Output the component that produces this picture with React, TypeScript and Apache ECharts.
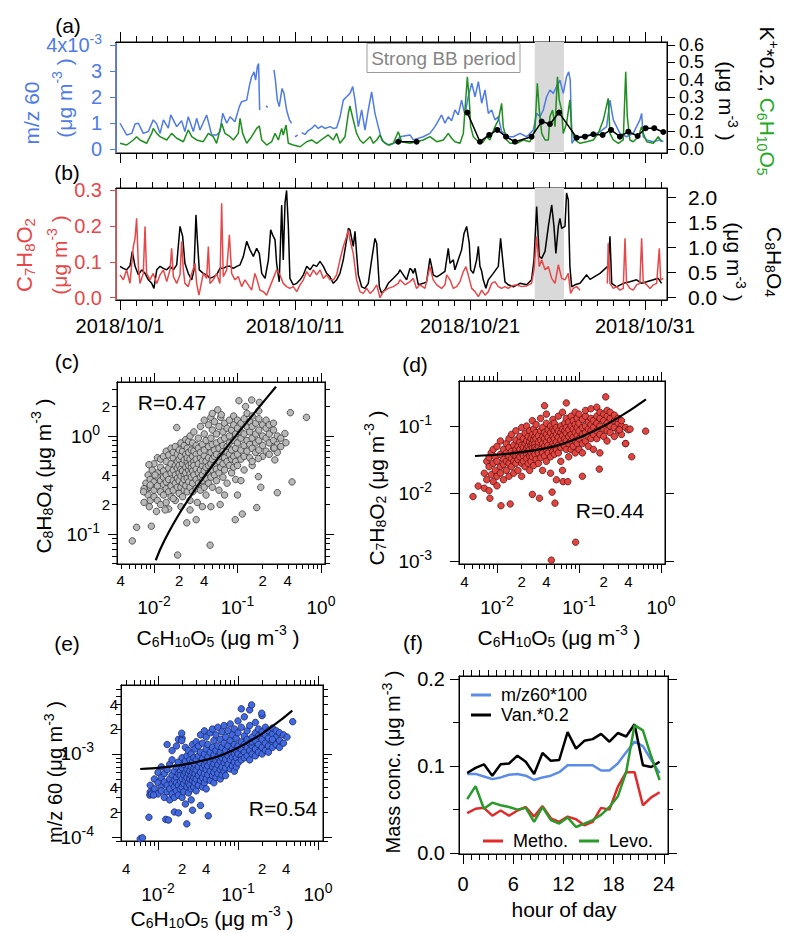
import React, { useEffect, useRef } from "react";
import * as echarts from "echarts";

const FONT = '"Liberation Sans", Arial, Helvetica, sans-serif';
const BLUE = "#4f7be6";
const GREEN = "#1e8f1e";
const GREEN_T = "#22aa22";
const RED = "#e8474a";

// ---------- time axis (days after 2018/10/1 00:00) ----------
const DATE_TICKS = [0, 10, 20, 30];
const DATE_LABELS = ["2018/10/1", "2018/10/11", "2018/10/21", "2018/10/31"];
const BB_PERIOD = [23.7, 25.37];

// ---------- (a) m/z 60 (x10^-3 ug m-3) ----------
const mz60A: (number | null)[][] = [
  [0,0.99],[0.38,0.54],[0.67,0.6],[0.86,0.96],[1.05,0.99],[1.33,0.6],[1.62,0.67],[1.9,1.12],[2.1,0.96],[2.29,0.6],[2.48,1.12],[2.76,0.8],[2.9,1.31],[3.24,0.86],[3.52,1.09],[3.71,0.67],[3.9,1.24],[4.19,0.67],[4.38,1.18],[4.57,0.73],[4.95,1.31],[5.24,0.54],[5.52,0.54],[5.71,0.67],[5.87,1.37],[6.1,0.99],[6.29,1.24],[6.57,1.05],[6.82,1.63],[6.95,1.82],[7.24,1.88],[7.39,2.42],[7.52,2.78],[7.66,2.97],[7.75,2.65],[7.85,3.17],[7.92,3.29],[7.98,1.5],[8.1,null],[8.34,1.66],[8.44,1.6],[8.6,null],[8.8,3.04],[8.88,2.65],[8.99,1.88],[9.1,1.63],[9.26,2.33],[9.37,2.14],[9.52,1.5],[9.68,1.12],[9.81,0.99],[9.9,null],[10.0,0.47],[10.15,0.54],[10.25,null],[10.38,0.63],[10.57,0.56],[10.76,0.71],[10.95,0.79],[11.14,0.92],[11.33,0.79],[11.52,0.88],[11.71,0.79],[12.0,0.86],[12.19,0.79],[12.38,0.82],[12.57,1.22],[12.76,1.88],[12.95,2.01],[13.14,2.14],[13.3,2.4],[13.43,1.88],[13.62,0.86],[13.81,1.5],[14.0,0.73],[14.19,1.5],[14.38,2.2],[14.57,1.37],[14.76,0.86],[14.95,0.35],[15.14,0.22],[15.43,0.15],[15.81,0.28],[16.0,0.47],[16.57,0.54],[16.76,0.35],[17.33,0.47],[17.71,0.6],[18.0,0.86],[18.38,1.31],[18.57,0.99],[18.76,1.24],[18.95,1.09],[19.14,1.5],[19.33,1.31],[19.52,1.88],[19.71,1.31],[19.9,2.01],[20.1,2.53],[20.29,2.01],[20.48,2.59],[20.67,1.76],[20.86,2.27],[21.05,1.37],[21.24,1.5],[21.43,1.12],[21.62,1.24],[21.81,0.67],[22.0,0.6],[22.19,0.47],[22.48,0.47],[22.86,0.6],[23.24,0.47],[23.62,0.73],[23.81,1.37],[24.0,1.24],[24.19,1.5],[24.38,2.01],[24.57,2.27],[24.76,2.14],[24.95,2.4],[25.14,2.65],[25.33,2.14],[25.52,2.78],[25.64,2.97],[25.73,2.65],[25.83,0.22],[26.0,0.41],[26.29,0.47],[26.67,0.54],[27.05,0.54],[27.43,0.67],[27.81,0.86],[28.0,1.88],[28.19,1.12],[28.57,0.6],[28.95,0.47],[29.33,0.6],[29.71,1.12],[29.81,1.37],[29.9,0.47],[30.1,0.35],[30.48,0.28],[30.86,0.35],[31.05,0.28]
];
// ---------- (a) C6H10O5 (ug m-3) ----------
const levoA: number[][] = [
  [0,0.033],[0.38,0.023],[0.76,0.052],[0.95,0.071],[1.14,0.052],[1.52,0.033],[1.81,0.09],[1.9,0.119],[2.1,0.09],[2.29,0.071],[2.67,0.052],[2.95,0.09],[3.24,0.062],[3.62,0.042],[3.9,0.11],[4.1,0.071],[4.38,0.052],[4.76,0.042],[5.05,0.09],[5.33,0.071],[5.52,0.033],[5.81,0.148],[6.0,0.09],[6.29,0.071],[6.48,0.052],[6.76,0.09],[6.86,0.177],[7.01,0.09],[7.24,0.033],[7.52,0.071],[7.81,0.119],[7.96,0.133],[8.1,0.052],[8.38,0.023],[8.67,0.042],[8.86,0.09],[9.05,0.052],[9.24,0.119],[9.33,0.081],[9.49,0.138],[9.62,0.033],[9.9,0.023],[10.29,0.013],[10.67,0.042],[10.95,0.052],[11.24,0.033],[11.62,0.062],[11.9,0.081],[12.19,0.052],[12.38,0.09],[12.57,0.033],[12.86,0.071],[13.05,0.206],[13.14,0.248],[13.33,0.167],[13.52,0.09],[13.71,0.052],[13.9,0.033],[14.1,0.052],[14.29,0.071],[14.48,0.033],[14.67,0.052],[14.86,0.081],[15.05,0.042],[15.33,0.023],[15.62,0.033],[15.9,0.1],[16.1,0.042],[16.57,0.033],[16.95,0.042],[17.33,0.052],[17.71,0.071],[18.1,0.042],[18.48,0.052],[18.76,0.09],[18.95,0.062],[19.14,0.042],[19.43,0.033],[19.62,0.09],[19.77,0.302],[19.85,0.417],[19.96,0.283],[20.04,0.129],[20.19,0.071],[20.38,0.052],[20.57,0.033],[20.76,0.042],[20.95,0.071],[21.14,0.052],[21.43,0.129],[21.62,0.167],[21.81,0.263],[21.9,0.129],[22.1,0.052],[22.29,0.033],[22.67,0.033],[23.05,0.052],[23.43,0.042],[23.71,0.11],[23.85,0.379],[23.96,0.225],[24.1,0.09],[24.29,0.052],[24.48,0.052],[24.57,0.187],[24.72,0.225],[24.86,0.129],[25.0,0.417],[25.1,0.283],[25.24,0.225],[25.33,0.09],[25.52,0.148],[25.71,0.283],[25.81,0.11],[26.0,0.052],[26.29,0.033],[26.67,0.042],[27.05,0.052],[27.33,0.09],[27.62,0.167],[27.9,0.292],[28.0,0.09],[28.19,0.052],[28.48,0.033],[28.76,0.052],[28.9,0.446],[28.99,0.187],[29.14,0.052],[29.33,0.042],[29.62,0.071],[29.81,0.129],[29.9,0.09],[30.1,0.042],[30.48,0.033],[30.76,0.071],[30.95,0.042]
];
// ---------- (a) K+ * 0.2 (ug m-3), daily ----------
const kPlusA: (number | null)[][] = [
  [15.9,0.042],[16.95,0.042],[17.5,null],[19.85,0.21],[20.57,0.042],[21.1,0.081],[21.56,0.11],[22.06,0.071],[22.57,0.042],[23.52,0.071],[24.1,0.158],[24.57,0.144],[25.09,0.21],[26.1,0.065],[26.57,0.071],[27.05,0.085],[27.58,0.081],[28.06,0.11],[28.57,0.071],[29.05,0.1],[29.58,0.075],[30.04,0.12],[30.53,0.12],[31.05,0.098]
];
// ---------- (b) C7H8O2 (ug m-3) ----------
const methoB: (number | null)[][] = [
  [0,0.064],[0.19,0.05],[0.38,0.078],[0.57,0.04],[0.76,0.143],[0.86,0.166],[0.95,0.222],[1.05,0.087],[1.14,0.04],[1.33,0.068],[1.43,0.199],[1.52,0.068],[1.71,0.05],[1.9,0.068],[2.1,0.04],[2.29,0.064],[2.48,0.078],[2.67,0.045],[2.86,0.078],[2.95,0.138],[3.05,0.059],[3.24,0.04],[3.43,0.064],[3.52,0.157],[3.62,0.078],[3.71,0.04],[3.9,0.031],[4.1,0.068],[4.29,0.096],[4.38,0.04],[4.51,0.007],[4.57,0.021],[4.76,0.068],[4.95,0.054],[5.05,0.143],[5.14,0.04],[5.33,0.05],[5.52,0.068],[5.71,0.04],[5.81,0.264],[5.9,0.059],[6.1,0.078],[6.25,0.176],[6.38,0.068],[6.57,0.05],[6.76,0.059],[6.95,0.031],[7.14,0.05],[7.33,0.036],[7.52,0.021],[7.71,0.068],[7.81,0.054],[8.0,0.021],[8.19,0.017],[8.38,0.007],[8.57,0.031],[8.76,0.054],[8.95,0.078],[9.14,0.064],[9.33,0.04],[9.52,0.031],[9.71,0.026],[9.9,0.031],[10.1,0.017],[10.29,0.036],[10.48,0.05],[10.67,0.073],[10.86,0.059],[11.05,0.078],[11.24,0.064],[11.43,0.078],[11.62,0.054],[11.81,0.064],[12.0,0.05],[12.19,0.05],[12.38,0.064],[12.57,0.106],[12.76,0.143],[12.95,0.171],[13.05,0.19],[13.14,0.162],[13.33,0.124],[13.52,0.05],[13.71,0.017],[13.9,0.012],[14.1,0.026],[14.29,0.012],[14.48,0.021],[14.67,0.036],[14.86,0.0],[15.05,0.017],[15.33,0.026],[15.62,0.031],[15.9,0.04],[16.0,0.05],[16.29,0.036],[16.57,0.045],[16.76,0.054],[16.95,0.026],[17.14,0.036],[17.43,0.026],[17.71,0.087],[17.9,0.05],[18.1,0.036],[18.38,0.026],[18.57,0.036],[18.67,0.064],[18.86,0.05],[19.05,0.026],[19.24,0.031],[19.43,0.045],[19.62,0.073],[19.77,0.087],[19.9,0.064],[20.1,0.026],[20.29,0.017],[20.48,0.003],[20.67,0.021],[20.86,0.007],[21.05,0.017],[21.24,0.04],[21.43,0.045],[21.62,0.031],[21.81,0.026],[22.0,0.031],[22.19,0.026],[22.38,0.033],[22.67,0.036],[22.95,0.031],[23.24,0.033],[23.52,0.04],[23.66,0.078],[23.81,0.171],[23.96,0.087],[24.1,0.106],[24.29,0.078],[24.48,0.087],[24.67,0.054],[24.86,0.04],[25.05,0.092],[25.24,0.054],[25.43,0.05],[25.62,0.068],[25.75,0.012],[25.9,0.026],[26.1,0.031],[26.29,0.021],[26.5,null],[27.85,0.04],[27.9,0.152],[28.0,0.04],[28.19,0.026],[28.38,0.031],[28.57,0.021],[28.76,0.026],[28.86,0.166],[28.95,0.04],[29.14,0.026],[29.33,0.021],[29.52,0.036],[29.71,0.04],[29.81,0.166],[29.9,0.045],[30.1,0.036],[30.29,0.026],[30.48,0.036],[30.67,0.04],[30.82,0.138],[30.9,0.05],[31.05,0.054]
];
// ---------- (b) C8H8O4 (ug m-3) ----------
const vanB: number[][] = [
  [0,0.62],[0.19,0.58],[0.38,0.55],[0.57,0.63],[0.7,0.92],[0.86,0.62],[1.05,0.45],[1.24,0.55],[1.43,0.48],[1.62,0.35],[1.81,0.28],[1.94,0.18],[2.1,0.55],[2.29,0.62],[2.48,0.58],[2.67,0.55],[2.86,0.62],[3.05,0.55],[3.24,0.65],[3.43,1.42],[3.58,1.22],[3.71,0.68],[3.9,0.48],[4.1,0.35],[4.23,0.55],[4.34,1.65],[4.42,1.15],[4.53,0.55],[4.76,0.48],[4.95,0.45],[5.14,0.38],[5.33,0.41],[5.52,0.45],[5.71,0.58],[5.9,0.58],[6.1,0.62],[6.29,0.62],[6.48,0.58],[6.67,0.62],[6.86,0.65],[7.05,0.82],[7.24,1.12],[7.43,0.95],[7.62,0.82],[7.81,0.98],[7.96,0.88],[8.1,0.48],[8.29,0.38],[8.48,0.75],[8.61,1.35],[8.72,1.25],[8.86,1.15],[8.95,0.68],[9.1,0.31],[9.24,1.85],[9.33,0.75],[9.43,1.89],[9.52,2.14],[9.62,1.42],[9.71,0.38],[9.9,0.25],[10.1,0.28],[10.29,0.35],[10.48,0.45],[10.67,0.62],[10.86,0.55],[11.05,0.65],[11.24,0.62],[11.43,0.72],[11.62,0.62],[11.81,0.48],[12.0,0.41],[12.19,0.28],[12.38,0.35],[12.57,0.48],[12.76,0.75],[12.95,1.15],[13.05,1.38],[13.14,1.35],[13.33,1.02],[13.43,1.32],[13.52,0.88],[13.62,0.45],[13.81,0.21],[14.0,0.18],[14.19,0.28],[14.38,0.75],[14.57,1.18],[14.67,1.08],[14.82,0.21],[14.95,0.08],[15.14,0.15],[15.33,0.28],[15.62,0.38],[15.9,0.48],[16.0,0.55],[16.19,0.45],[16.38,0.35],[16.57,0.58],[16.67,0.55],[16.76,0.48],[16.86,0.58],[17.05,0.25],[17.33,0.28],[17.52,0.31],[17.71,0.78],[17.81,0.62],[17.9,0.45],[18.1,0.41],[18.29,0.45],[18.57,0.52],[18.76,0.98],[18.86,0.68],[19.05,0.75],[19.14,0.55],[19.33,0.75],[19.52,0.95],[19.66,1.28],[19.81,1.42],[19.96,1.08],[20.04,0.55],[20.19,0.48],[20.29,0.62],[20.38,0.75],[20.48,1.02],[20.57,0.62],[20.67,0.52],[20.76,0.35],[20.91,0.18],[21.05,0.35],[21.33,0.48],[21.62,0.62],[21.75,1.18],[21.87,0.75],[22.0,0.31],[22.19,0.25],[22.48,0.21],[22.86,0.28],[23.24,0.25],[23.52,0.35],[23.66,0.75],[23.81,1.82],[23.96,0.82],[24.1,0.78],[24.29,0.92],[24.48,1.42],[24.67,1.85],[24.8,1.42],[24.91,0.88],[25.05,1.42],[25.14,1.58],[25.24,1.38],[25.43,1.42],[25.52,2.09],[25.62,1.95],[25.71,0.62],[25.81,0.21],[26.0,0.25],[26.29,0.28],[26.67,0.45],[26.86,0.36],[27.43,0.48],[27.9,0.63],[28.0,1.22],[28.1,0.28],[28.38,0.21],[28.76,0.28],[29.14,0.31],[29.52,0.35],[29.81,0.28],[30.1,0.31],[30.48,0.35],[30.76,0.38],[30.95,0.28]
];

// ---------- (c) C6H10O5 vs C8H8O4 (ug m-3): [x, [y...]] ----------
const scatterC: [number, number[]][] = [
  [0.008,[0.27,0.33]],[0.0085,[0.25,0.4]],[0.009,[0.3,0.36,0.22]],[0.0095,[0.45]],[0.01,[0.28,0.34,0.52,0.24]],[0.011,[0.31,0.42,0.6,0.22,0.38]],[0.012,[0.27,0.35,0.48,0.58,0.2]],[0.013,[0.32,0.44,0.62,0.25,0.38]],[0.014,[0.29,0.4,0.55,0.7,0.21,0.34]],[0.015,[0.36,0.47,0.64,0.27,0.18]],[0.016,[0.31,0.42,0.52,0.75,0.24]],[0.017,[0.35,0.45,0.6,0.28,0.68]],[0.018,[0.4,0.5,0.33,0.22,0.78]],[0.019,[0.37,0.55,0.65,0.3,0.47]],[0.02,[0.42,0.58,0.26,0.35,0.72,0.5]],[0.021,[0.39,0.62,0.3,0.85,0.46]],[0.022,[0.33,0.52,0.7,0.44,0.24]],[0.023,[0.4,0.57,0.8,0.36,0.28]],[0.024,[0.48,0.65,0.31,0.92,0.42]],[0.025,[0.37,0.55,0.75,0.27,0.6]],[0.026,[0.45,0.68,0.34,0.5,0.88]],[0.027,[0.41,0.58,1.0,0.3,0.22]],[0.028,[0.52,0.72,0.38,0.47]],[0.029,[0.62,0.44,0.85,0.33,0.27]],[0.03,[0.55,0.4,0.7,1.1,0.5]],[0.032,[0.46,0.65,0.36,0.8,0.29,0.58]],[0.034,[0.52,0.75,0.42,0.95,0.33]],[0.036,[0.6,0.45,0.38,0.68,1.25,0.28]],[0.038,[0.5,0.82,0.4,0.56,0.35]],[0.04,[0.63,0.44,0.72,1.05,0.3,1.45]],[0.042,[0.55,0.48,0.9,0.37,0.25]],[0.045,[0.6,0.78,0.42,1.3,0.33,0.5]],[0.048,[0.68,0.52,0.95,0.38,1.55]],[0.05,[0.58,0.45,0.82,0.3,1.15,1.7]],[0.053,[0.72,0.5,0.4,0.62,1.4]],[0.056,[0.65,0.85,0.46,0.35,1.05]],[0.058,[1.85]],[0.06,[0.55,0.75,0.42,1.25,0.28]],[0.063,[0.9,0.62,0.48,1.55]],[0.064,[1.65]],[0.067,[0.7,0.52,1.1,0.38,0.8]],[0.07,[0.6,0.95,0.45,1.35,0.25]],[0.075,[0.78,0.55,1.2,0.68,0.33]],[0.08,[0.65,1.0,0.5,0.85,1.45]],[0.085,[0.72,0.58,1.15,0.42]],[0.09,[0.9,0.62,1.3,0.48,1.6]],[0.095,[0.75,1.05,0.55,0.36]],[0.1,[0.85,1.2,0.65,1.45,0.5,0.25]],[0.11,[0.95,0.72,1.35,0.58,1.1,0.35]],[0.12,[1.05,0.8,1.5,0.62,0.45]],[0.13,[0.9,1.25,0.7,1.7]],[0.14,[1.1,0.82,1.4,0.6]],[0.15,[0.95,1.25,0.75,1.6,0.5,0.55]],[0.165,[1.05,0.85,1.35,0.68]],[0.18,[1.15,0.9,1.5,0.72,1.8]],[0.2,[1.0,1.3,0.8,0.62]],[0.22,[1.2,0.95,1.45,0.7]],[0.24,[1.05,0.85,1.3,0.65]],[0.27,[1.15,0.9,0.75,1.35]],[0.3,[1.0,0.82,0.68,0.264]],[0.33,[0.95,0.78]],
  [0.0055,[0.085]],[0.0062,[0.117]],[0.0093,[0.12]],[0.0087,[0.51]],[0.0187,[1.22]],[0.0192,[0.061]],[0.047,[0.077]],[0.0247,[0.13]],[0.032,[0.14]],[0.094,[0.14]],[0.114,[0.16]],[0.17,[0.186]],[0.45,[0.34]],[0.67,[1.55]],[0.43,[1.73]],[0.37,[1.06]],[0.38,[0.855]],[0.104,[2.29]],[0.148,[2.33]],[0.183,[2.2]],[0.125,[2.0]],[0.178,[0.385,0.59]],[0.19,[0.3]],[0.28,[0.57]],[0.275,[0.755]],[0.062,[0.2]],[0.048,[0.19]],[0.038,[0.19]],[0.033,[0.21]],[0.027,[0.176]],[0.021,[0.19]],[0.017,[0.23]],[0.0136,[0.176]],[0.0107,[0.17]],[0.0088,[0.19]],[0.0076,[0.21,0.29]],[0.0075,[0.27]],[0.009,[0.316]],[0.0103,[0.4]]
];
const fitC = [[0.0105,0.054],[0.012,0.071],[0.015,0.104],[0.02,0.16],[0.03,0.273],[0.05,0.497],[0.1,1.058],[0.2,2.18],[0.289,3.18]];

// ---------- (d) C6H10O5 vs C7H8O2 (ug m-3) ----------
const scatterD: [number, number[]][] = [
  [0.007,[0.012,0.02]],[0.0075,[0.03,0.016]],[0.008,[0.025,0.034,0.011]],[0.0085,[0.019,0.04]],[0.009,[0.028,0.015,0.045]],[0.0095,[0.022,0.035]],[0.01,[0.018,0.03,0.05,0.013]],[0.011,[0.025,0.038,0.02,0.06]],[0.012,[0.032,0.045,0.016,0.027]],[0.013,[0.022,0.04,0.055,0.03]],[0.014,[0.035,0.028,0.065,0.018,0.048]],[0.015,[0.042,0.025,0.033,0.075]],[0.016,[0.038,0.052,0.02,0.03]],[0.017,[0.045,0.028,0.062,0.036,0.085]],[0.018,[0.032,0.05,0.04,0.022]],[0.019,[0.058,0.035,0.045,0.07]],[0.02,[0.04,0.028,0.052,0.095,0.018]],[0.021,[0.048,0.036,0.065,0.03]],[0.022,[0.055,0.042,0.078,0.025]],[0.023,[0.038,0.06,0.047,0.033,0.1]],[0.024,[0.05,0.07,0.028,0.042]],[0.025,[0.058,0.036,0.085,0.045,0.022]],[0.026,[0.065,0.04,0.052,0.03]],[0.027,[0.048,0.075,0.056,0.035,0.12]],[0.028,[0.042,0.062,0.09,0.026]],[0.029,[0.055,0.038,0.07,0.048]],[0.03,[0.065,0.045,0.08,0.032,0.105]],[0.032,[0.05,0.072,0.04,0.058,0.028]],[0.034,[0.062,0.085,0.045,0.034,0.13]],[0.036,[0.055,0.07,0.04,0.095,0.022]],[0.038,[0.065,0.05,0.08,0.036]],[0.04,[0.058,0.075,0.045,0.11,0.03,0.15]],[0.042,[0.068,0.052,0.088,0.04]],[0.045,[0.062,0.08,0.048,0.1,0.035,0.02]],[0.048,[0.07,0.055,0.09,0.042,0.125]],[0.05,[0.065,0.085,0.05,0.038,0.11]],[0.053,[0.075,0.058,0.095,0.045,0.016]],[0.056,[0.068,0.052,0.085,0.14,0.04]],[0.06,[0.08,0.062,0.1,0.048,0.03]],[0.063,[0.072,0.09,0.055,0.16,0.022]],[0.067,[0.085,0.065,0.11,0.05]],[0.07,[0.078,0.095,0.06,0.045,0.13]],[0.075,[0.088,0.07,0.115,0.055,0.035]],[0.08,[0.1,0.075,0.06,0.14,0.045]],[0.085,[0.09,0.068,0.12,0.05]],[0.09,[0.08,0.105,0.06,0.16,0.04]],[0.095,[0.095,0.072,0.13,0.055]],[0.1,[0.085,0.11,0.065,0.045,0.15]],[0.11,[0.095,0.075,0.125,0.055,0.04]],[0.12,[0.1,0.08,0.14,0.06,0.17]],[0.13,[0.09,0.115,0.07,0.05]],[0.14,[0.105,0.085,0.13,0.065,0.18]],[0.15,[0.095,0.12,0.075,0.045]],[0.165,[0.11,0.085,0.14,0.065,0.19]],[0.18,[0.1,0.13,0.075,0.16,0.04]],[0.2,[0.12,0.09,0.15,0.07]],[0.22,[0.11,0.14,0.085,0.17,0.06]],[0.24,[0.13,0.1,0.08,0.16]],[0.27,[0.12,0.095,0.145,0.07]],[0.3,[0.11,0.085,0.13]],[0.33,[0.1,0.075,0.12]],[0.37,[0.095,0.055]],[0.4,[0.088]],
  [0.0051,[0.009]],[0.0059,[0.0129]],[0.0082,[0.0085]],[0.0112,[0.0066]],[0.0145,[0.007]],[0.027,[0.0097]],[0.033,[0.0085]],[0.051,[0.0072]],[0.047,[0.0105]],[0.091,[0.0019]],[0.046,[0.00103]],[0.212,[0.27]],[0.038,[0.2]],[0.07,[0.22]],[0.65,[0.084]],[0.44,[0.035]],[0.37,[0.055]],[0.42,[0.09]],[0.31,[0.088]],[0.177,[0.023]],[0.11,[0.018]],[0.064,[0.015]],[0.073,[0.015]]
];
const fitD = [[0.0054,0.036],[0.01,0.0375],[0.02,0.041],[0.05,0.05],[0.1,0.067],[0.2,0.1],[0.4,0.165],[0.656,0.249]];

// ---------- (e) C6H10O5 vs m/z 60 (y in 10^-3 ug m-3) ----------
const scatterE: [number, number[]][] = [
  [0.008,[0.35,0.42]],[0.009,[0.38,0.5]],[0.01,[0.33,0.45,0.6]],[0.011,[0.4,0.52,0.36,0.7]],[0.012,[0.3,0.46,0.58]],[0.013,[0.42,0.35,0.65,1.3]],[0.014,[0.5,0.38,0.28,0.75]],[0.015,[0.44,0.56,0.33,0.85,1.1]],[0.016,[0.48,0.62,0.4,0.3]],[0.017,[0.52,0.36,0.7,0.45,1.25]],[0.018,[0.58,0.42,0.32,0.8,1.5]],[0.019,[0.47,0.62,0.38,0.55]],[0.02,[0.5,0.68,0.4,0.9,0.3,1.55]],[0.021,[0.56,0.44,0.75,0.35]],[0.022,[0.6,0.48,0.82,0.25,1.2]],[0.023,[0.52,0.66,0.4,0.95]],[0.024,[0.58,0.45,0.72,0.34,1.1]],[0.025,[0.62,0.5,0.85,0.42]],[0.026,[0.55,0.7,0.38,1.0,0.28]],[0.027,[0.6,0.48,0.8,1.3]],[0.028,[0.66,0.52,0.9,0.4]],[0.029,[0.58,0.75,0.45,1.15]],[0.03,[0.64,0.5,0.85,0.36,1.4]],[0.032,[0.7,0.55,0.95,0.42,1.25]],[0.034,[0.6,0.78,0.48,1.05,1.7]],[0.036,[0.68,0.52,0.88,0.4,1.35]],[0.038,[0.74,0.58,1.0,0.45,1.9]],[0.04,[0.65,0.82,0.5,1.15,0.38,1.6]],[0.042,[0.72,0.56,0.92,1.3]],[0.045,[0.8,0.62,1.05,0.48,1.8]],[0.048,[0.7,0.88,0.55,1.2,2.0]],[0.05,[0.76,0.6,0.98,1.45,0.45]],[0.053,[0.84,0.66,1.1,0.52,1.7]],[0.056,[0.74,0.92,0.58,1.25,2.1]],[0.06,[0.82,0.65,1.05,1.5,0.5]],[0.063,[0.9,0.7,1.2,0.56,1.85]],[0.067,[0.78,0.98,0.62,1.35,2.2]],[0.07,[0.86,1.1,0.68,1.6,0.55]],[0.075,[0.95,0.75,1.25,1.9]],[0.08,[0.85,1.05,0.66,1.45,2.3]],[0.085,[0.92,1.15,0.72,1.7]],[0.09,[1.0,0.8,1.3,2.0,0.62]],[0.095,[0.9,1.1,1.55,0.7]],[0.1,[1.0,1.25,0.78,1.8,2.5]],[0.11,[0.95,1.15,1.4,0.85,2.1]],[0.12,[1.05,1.3,0.9,1.65,2.8]],[0.13,[1.2,0.95,1.5,1.9]],[0.14,[1.1,1.35,0.85,2.2,3.4]],[0.15,[1.25,1.0,1.6,1.4]],[0.165,[1.15,1.45,0.95,1.8,2.4]],[0.18,[1.3,1.05,1.65,2.0]],[0.2,[1.2,1.5,1.0,1.85,2.9]],[0.22,[1.35,1.1,1.7,2.1]],[0.24,[1.25,1.55,1.9,1.05]],[0.27,[1.4,1.75,1.2,2.05]],[0.3,[1.6,1.3,1.9]],[0.33,[1.45,1.8,1.2]],[0.37,[1.7,1.35]],
  [0.006,[0.095]],[0.0064,[0.098]],[0.0077,[0.173]],[0.0125,[0.163]],[0.0135,[0.16]],[0.0229,[0.144]],[0.0425,[0.18]],[0.027,[0.21]],[0.034,[0.24]],[0.016,[0.2]],[0.018,[0.195]],[0.0079,[0.32]],[0.0083,[0.33]],[0.0088,[0.32]],[0.0198,[1.78,1.45]],[0.148,[3.9]],[0.11,[3.5]],[0.198,[3.1]],[0.483,[2.45]],[0.41,[1.6]],[0.27,[1.5]]
];
const fitE = [[0.006,0.66],[0.01,0.68],[0.02,0.74],[0.05,0.9],[0.1,1.19],[0.2,1.76],[0.35,2.61],[0.477,3.33]];

// ---------- (f) diurnal (ug m-3) ----------
const hourX = [0.5,1.5,2.5,3.5,4.5,5.5,6.5,7.5,8.5,9.5,10.5,11.5,12.5,13.5,14.5,15.5,16.5,17.5,18.5,19.5,20.5,21.5,22.5,23.5];
const mz60x100 = [0.091,0.091,0.088,0.085,0.087,0.09,0.091,0.089,0.084,0.087,0.089,0.093,0.101,0.101,0.101,0.101,0.095,0.095,0.103,0.116,0.128,0.123,0.107,0.092];
const van02 = [0.092,0.098,0.102,0.089,0.102,0.103,0.112,0.105,0.091,0.115,0.106,0.107,0.139,0.12,0.129,0.131,0.137,0.128,0.138,0.134,0.148,0.101,0.099,0.105];
const methoF = [0.046,0.051,0.052,0.043,0.049,0.043,0.049,0.053,0.042,0.054,0.04,0.036,0.042,0.039,0.032,0.036,0.052,0.05,0.076,0.093,0.093,0.055,0.064,0.07];
const levoF = [0.062,0.077,0.051,0.058,0.055,0.053,0.05,0.052,0.036,0.053,0.038,0.034,0.041,0.03,0.034,0.038,0.044,0.053,0.065,0.093,0.147,0.141,0.111,0.084];
const HOUR_MAJOR = [0, 6, 12, 18, 24];

// ===================================================================
function buildOption() {
  const xAxes: any[] = [];
  const yAxes: any[] = [];
  const addX = (o: any) => (xAxes.push(o), xAxes.length - 1);
  const addY = (o: any) => (yAxes.push(o), yAxes.length - 1);

  const axis = (o: any) => {
    const lc = o.lineColor || "#000";
    return {
      type: "value",
      gridIndex: o.grid,
      position: o.position,
      min: o.min,
      max: o.max,
      splitLine: { show: false },
      axisLine: { show: true, onZero: false, lineStyle: { color: lc, width: 1 } },
      axisTick: { show: !!(o.ticks && o.ticks.length), inside: false, length: o.len || 6, customValues: o.ticks || [], lineStyle: { color: lc, width: 1 } },
      axisLabel: o.labels
        ? { show: true, customValues: o.labels, formatter: o.fmt, margin: o.margin ?? 8, color: o.color || "#000", fontSize: o.fs || 18, fontFamily: FONT, rich: o.rich, hideOverlap: false, showMinLabel: true, showMaxLabel: true, lineHeight: o.lh }
        : { show: false },
    };
  };

  const XMIN = -0.229, XMAX = 31.26;
  const minorDate: number[] = [];
  for (let k = 1; k <= 34; k++) if (k % 11 !== 0) minorDate.push((k * 10) / 11);

  const timeX = (g: number, labels: boolean) => {
    const main = addX(axis({ grid: g, position: "bottom", min: XMIN, max: XMAX, ticks: DATE_TICKS, len: 10,
      labels: labels ? DATE_TICKS : undefined, fs: 20, margin: 16,
      fmt: (v: number) => DATE_LABELS[DATE_TICKS.indexOf(Math.round(v))] }));
    addX(axis({ grid: g, position: "bottom", min: XMIN, max: XMAX, ticks: minorDate, len: 6 }));
    addX(axis({ grid: g, position: "top", min: XMIN, max: XMAX, ticks: DATE_TICKS, len: 10 }));
    addX(axis({ grid: g, position: "top", min: XMIN, max: XMAX, ticks: minorDate, len: 6 }));
    return main;
  };

  // (a)
  const xa = timeX(0, false);
  const ticksAL = [0, 1, 2, 3, 4];
  const yaL = addY(axis({ grid: 0, position: "left", min: -0.154, max: 4.115, ticks: ticksAL, len: 6, labels: ticksAL,
    lineColor: BLUE, color: BLUE, fs: 20, margin: 14,
    fmt: (v: number) => (v === 4 ? "{b|4x10}{s|-3}" : `{b|${v}}`),
    rich: { b: { fontSize: 20, fontFamily: FONT, color: BLUE }, s: { fontSize: 14, fontFamily: FONT, color: BLUE, padding: [0, 0, 12, 0] } } }));
  const ticksAR = [0, 0.1, 0.2, 0.3, 0.4, 0.5, 0.6];
  // right labels are split over two axes so that the tightly packed labels are all kept
  const yaR = addY(axis({ grid: 0, position: "right", min: -0.023, max: 0.617, ticks: ticksAR, len: 8, labels: [0, 0.2, 0.4, 0.6], fs: 18, lh: 17, margin: 12,
    fmt: (v: number) => v.toFixed(1) }));
  addY(axis({ grid: 0, position: "right", min: -0.023, max: 0.617, labels: [0.1, 0.3, 0.5], fs: 18, lh: 17, margin: 12,
    fmt: (v: number) => v.toFixed(1) }));

  // (b)
  const xb = timeX(1, true);
  const ticksBL = [0, 0.1, 0.2, 0.3];
  const ybL = addY(axis({ grid: 1, position: "left", min: -0.0064, max: 0.3067, ticks: ticksBL, len: 6, labels: ticksBL,
    lineColor: RED, color: RED, fs: 20, margin: 14, fmt: (v: number) => v.toFixed(1) }));
  const ticksBR = [0, 0.5, 1, 1.5, 2];
  const ybR = addY(axis({ grid: 1, position: "right", min: -0.054, max: 2.189, ticks: ticksBR, len: 9, labels: ticksBR, fs: 21, margin: 21,
    fmt: (v: number) => v.toFixed(1) }));

  // log panels
  const logMajors = (a: number, b: number) => { const o: number[] = []; for (let n = Math.ceil(a); n <= Math.floor(b); n++) o.push(n); return o; };
  const logMinors = (a: number, b: number) => { const o: number[] = []; for (let n = Math.floor(a); n <= Math.ceil(b); n++) for (let k = 2; k <= 9; k++) { const v = n + Math.log10(k); if (v >= a && v <= b) o.push(v); } return o; };
  const majFmt = (v: number) => `{b|10}{s|${Math.round(v)}}`;
  const minFmt = (v: number) => `${Math.round(Math.pow(10, v - Math.floor(v + 1e-9)))}`;
  const richMaj = { b: { fontSize: 19, fontFamily: FONT, color: "#000" }, s: { fontSize: 14, fontFamily: FONT, color: "#000", padding: [0, 0, 13, 0] } };
  const X_MINOR_LABELS = [0.004, 0.02, 0.04, 0.2, 0.4].map(Math.log10);

  const logPanel = (g: number, xr: number[], yr: number[], o: any) => {
    const xi = addX({ type: "log", logBase: 10, gridIndex: g, min: Math.pow(10, xr[0]), max: Math.pow(10, xr[1]), show: false });
    const yi = addY({ type: "log", logBase: 10, gridIndex: g, min: Math.pow(10, yr[0]), max: Math.pow(10, yr[1]), show: false });
    const xMaj = logMajors(xr[0], xr[1]), xMin = logMinors(xr[0], xr[1]);
    const yMaj = logMajors(yr[0], yr[1]), yMin = o.yMinor ? logMinors(yr[0], yr[1]) : [];
    const bx = { grid: g, min: xr[0], max: xr[1] };
    const by = { grid: g, min: yr[0], max: yr[1] };
    addX(axis({ ...bx, position: "bottom", ticks: xMaj, len: 9, labels: xMaj, fmt: majFmt, rich: richMaj, margin: o.xMajM, fs: 19 }));
    addX(axis({ ...bx, position: "bottom", ticks: xMin, len: 5, labels: X_MINOR_LABELS, fmt: minFmt, fs: 15, margin: o.xMinM }));
    addX(axis({ ...bx, position: "top", ticks: xMaj, len: 9 }));
    addX(axis({ ...bx, position: "top", ticks: xMin, len: 5 }));
    addY(axis({ ...by, position: "left", ticks: yMaj, len: 9, labels: yMaj, fmt: majFmt, rich: richMaj, margin: o.yMajM, fs: 19 }));
    addY(axis({ ...by, position: "left", ticks: yMin, len: 5, labels: o.yMinLabels, fmt: minFmt, fs: 15, margin: o.yMinM }));
    addY(axis({ ...by, position: "right", ticks: yMaj, len: 9 }));
    addY(axis({ ...by, position: "right", ticks: yMin, len: 5 }));
    return [xi, yi];
  };

  const [xc, yc] = logPanel(2, [-2.443, 0.048], [-1.306, 0.551], { yMinor: true, xMajM: 30, xMinM: 9, yMajM: 17, yMinM: 7, yMinLabels: [2, 0.4, 0.2].map(Math.log10) });
  const [xd, yd] = logPanel(3, [-2.463, 0.049], [-3.044, -0.333], { yMinor: false, xMajM: 30, xMinM: 10, yMajM: 27, yMinM: 7 });
  const [xe, ye] = logPanel(4, [-2.4625, 0.0625], [-4.048, -2.169], { yMinor: true, xMajM: 40, xMinM: 20, yMajM: 27, yMinM: 3, yMinLabels: [0.004, 0.002, 0.0004, 0.0002].map(Math.log10) });

  // (f)
  const hoursAll: number[] = [];
  for (let h = 0; h <= 24; h++) hoursAll.push(h);
  const hoursMinor = hoursAll.filter((h) => h % 6 !== 0);
  const xf = addX(axis({ grid: 5, position: "bottom", min: -0.48, max: 24.5, ticks: HOUR_MAJOR, len: 10, labels: HOUR_MAJOR, fs: 20, margin: 20, fmt: (v: number) => `${v}` }));
  addX(axis({ grid: 5, position: "bottom", min: -0.48, max: 24.5, ticks: hoursMinor, len: 6 }));
  addX(axis({ grid: 5, position: "top", min: -0.48, max: 24.5, ticks: hoursAll, len: 6 }));
  const fMaj = [0, 0.1, 0.2], fMin = [0.05, 0.15];
  const yf = addY(axis({ grid: 5, position: "left", min: -0.001, max: 0.2035, ticks: fMaj, len: 9, labels: fMaj, fs: 20, margin: 14, fmt: (v: number) => v.toFixed(1) }));
  addY(axis({ grid: 5, position: "left", min: -0.001, max: 0.2035, ticks: fMin, len: 6 }));
  addY(axis({ grid: 5, position: "right", min: -0.001, max: 0.2035, ticks: fMaj, len: 9 }));
  addY(axis({ grid: 5, position: "right", min: -0.001, max: 0.2035, ticks: fMin, len: 5 }));

  const gap = (arr: (number | null)[][], scale = 1) => arr.map(([x, y]) => [x, y === null ? "-" : (y as number) * scale]);
  const flat = (cols: [number, number[]][], scale = 1) => cols.flatMap(([x, ys]) => ys.map((y) => [x, y * scale]));
  const bbArea = { silent: true, z: 1, itemStyle: { color: "#d9d9d9" }, label: { show: false }, data: [[{ xAxis: BB_PERIOD[0] }, { xAxis: BB_PERIOD[1] }]] };
  const tsLine = (xi: number, yi: number, data: any[], color: string, extra: any = {}) => ({
    type: "line", xAxisIndex: xi, yAxisIndex: yi, data, showSymbol: false, connectNulls: false,
    lineStyle: { color, width: 1.5 }, itemStyle: { color }, z: 3, silent: true, ...extra });
  const scat = (xi: number, yi: number, data: any[], color: string, border: string) => ({
    type: "scatter", xAxisIndex: xi, yAxisIndex: yi, data, symbol: "circle", symbolSize: 6.5,
    itemStyle: { color, borderColor: border, borderWidth: 0.8, opacity: 1 }, z: 3, silent: true });
  const fitLine = (xi: number, yi: number, data: any[]) => ({
    type: "line", xAxisIndex: xi, yAxisIndex: yi, data, showSymbol: false, smooth: 0.2,
    lineStyle: { color: "#000", width: 2.2 }, z: 4, silent: true });
  const fLine = (name: string, data: number[], color: string) => ({
    name, type: "line", xAxisIndex: xf, yAxisIndex: yf, data: hourX.map((h, i) => [h, data[i]]),
    showSymbol: false, lineStyle: { color, width: 2.5 }, itemStyle: { color }, z: 3, silent: true });

  const series: any[] = [
    tsLine(xa, yaL, gap(mz60A), BLUE, { markArea: bbArea }),
    tsLine(xa, yaR, levoA, GREEN),
    tsLine(xa, yaR, gap(kPlusA), "#000", { showSymbol: true, symbol: "circle", symbolSize: 6, z: 4 }),
    tsLine(xb, ybR, vanB, "#000", { markArea: bbArea }),
    tsLine(xb, ybL, gap(methoB), RED, { z: 4 }),
    scat(xc, yc, flat(scatterC), "#b8b8b8", "#3a3a3a"),
    fitLine(xc, yc, fitC),
    scat(xd, yd, flat(scatterD), "#e2443f", "#5a1414"),
    fitLine(xd, yd, fitD),
    scat(xe, ye, flat(scatterE, 1e-3), "#4169e0", "#1a2766"),
    fitLine(xe, ye, fitE.map(([x, y]) => [x, y * 1e-3])),
    fLine("m/z60*100", mz60x100, "#5b8ce8"),
    fLine("Van.*0.2", van02, "#000"),
    fLine("Metho.", methoF, "#e32a2a"),
    fLine("Levo.", levoF, "#2a9a2a"),
  ];

  // ---------- text graphics ----------
  const rs = (fs: number, fill: string) => ({
    n: { fontSize: fs, fontFamily: FONT, fill },
    d: { fontSize: Math.round(fs * 0.68), fontFamily: FONT, fill, padding: [Math.round(fs * 0.45), 0, 0, 0] },
    u: { fontSize: Math.round(fs * 0.68), fontFamily: FONT, fill, padding: [0, 0, Math.round(fs * 0.65), 0] },
  });
  const chem = (parts: string[]) => parts.map((p, i) => (i % 2 === 0 ? `{n|${p}}` : `{d|${p}}`)).join("");
  const UNIT = "{n|(μg m}{u|-3}{n| )}";
  const UNIT_SP = "{n| (μg m}{u|-3}{n| )}";
  const txt = (x: number, y: number, text: string, rich: any, rot = 0, fs = 20, fill = "#000") => ({
    type: "text", x, y, rotation: rot, z: 100, silent: true,
    style: { text, rich, fontSize: fs, fontFamily: FONT, fill, align: "center", verticalAlign: "middle", textAlign: "center", textVerticalAlign: "middle" },
  });
  const L = Math.PI / 2, R = -Math.PI / 2;
  const plain = (x: number, y: number, s: string, fs = 21, fill = "#000") => txt(x, y, `{n|${s}}`, rs(fs, fill), 0, fs, fill);

  const rightA = {
    nk: { fontSize: 21, fontFamily: FONT, fill: "#000" },
    uk: { fontSize: 14, fontFamily: FONT, fill: "#000", padding: [0, 0, 14, 0] },
    ng: { fontSize: 21, fontFamily: FONT, fill: GREEN_T },
    dg: { fontSize: 14, fontFamily: FONT, fill: GREEN_T, padding: [10, 0, 0, 0] },
  };

  const graphic: any[] = [
    plain(68, 25, "(a)"), plain(67, 172, "(b)"), plain(67, 361, "(c)"), plain(415, 364, "(d)"), plain(67, 643, "(e)"), plain(413, 642, "(f)"),
    // (a)
    txt(31, 113, "{n|m/z 60}", rs(21, BLUE), L, 21, BLUE),
    txt(64, 98, UNIT, rs(21, BLUE), L, 21, BLUE),
    txt(726, 101, UNIT, rs(21, "#000"), R, 21),
    txt(767, 101, "{nk|K}{uk|+}{nk|*0.2, }{ng|C}{dg|6}{ng|H}{dg|10}{ng|O}{dg|5}", rightA, R, 21),
    { type: "rect", z: 90, silent: true, shape: { x: 367, y: 43.5, width: 153, height: 29 }, style: { fill: "#fff", stroke: "#9a9a9a", lineWidth: 1 } },
    plain(443.5, 58, "Strong BB period", 19, "#858585"),
    // (b)
    txt(24, 255, chem(["C", "7", "H", "8", "O", "2"]), rs(22, RED), L, 22, RED),
    txt(59, 255, UNIT, rs(21, RED), L, 21, RED),
    txt(734, 262, UNIT, rs(21, "#000"), R, 21),
    txt(774, 262, chem(["C", "8", "H", "8", "O", "4"]), rs(21, "#000"), R, 21),
    // (c)
    txt(218, 637, chem(["C", "6", "H", "10", "O", "5"]) + UNIT_SP, rs(21, "#000"), 0, 21),
    txt(43, 476, chem(["C", "8", "H", "8", "O", "4"]) + UNIT_SP, rs(21, "#000"), L, 21),
    plain(172, 402, "R=0.47"),
    // (d)
    txt(559, 637, chem(["C", "6", "H", "10", "O", "5"]) + UNIT_SP, rs(21, "#000"), 0, 21),
    txt(376, 488, chem(["C", "7", "H", "8", "O", "2"]) + UNIT_SP, rs(21, "#000"), L, 21),
    plain(610, 510, "R=0.44"),
    // (e)
    txt(212, 918, chem(["C", "6", "H", "10", "O", "5"]) + UNIT_SP, rs(21, "#000"), 0, 21),
    txt(55, 772, "{n|m/z 60 }" + UNIT, rs(20, "#000"), L, 20),
    plain(283, 808, "R=0.54"),
    // (f)
    txt(393, 762, "{n|Mass conc. }" + UNIT, rs(20, "#000"), L, 20),
    plain(564, 909, "hour of day", 21),
  ];

  const gridBox = (left: number, top: number, width: number, height: number) => ({
    left, top, width, height, show: true, borderColor: "#000", borderWidth: 1, backgroundColor: "transparent", containLabel: false, outerBoundsMode: "none",
  });

  const legendBase = {
    selectedMode: false, icon: "rect", itemWidth: 20, itemHeight: 3,
    textStyle: { fontSize: 18, fontFamily: FONT, color: "#000", padding: [0, 0, 0, 5] },
  };

  return {
    animation: false,
    backgroundColor: "#fff",
    textStyle: { fontFamily: FONT },
    grid: [
      gridBox(116, 42, 551, 111),
      gridBox(116, 188, 551, 112),
      gridBox(117, 382, 208, 182),
      gridBox(459, 381, 206, 183),
      gridBox(121, 685, 202, 156),
      gridBox(459, 676, 209, 178),
    ],
    xAxis: xAxes,
    yAxis: yAxes,
    legend: [
      { ...legendBase, data: ["m/z60*100", "Van.*0.2"], orient: "vertical", left: 466, top: 681, itemGap: 2 },
      { ...legendBase, data: ["Metho.", "Levo."], orient: "horizontal", left: 478, top: 827, itemGap: 11 },
    ],
    series,
    graphic,
  };
}

export default function App() {
  const ref = useRef<HTMLDivElement>(null);
  useEffect(() => {
    const chart = echarts.init(ref.current!, null, { renderer: "svg" });
    chart.setOption(buildOption() as any);
    return () => chart.dispose();
  }, []);
  return <div ref={ref} style={{ position: "fixed", left: 0, top: 0, width: 788, height: 933, background: "#fff" }} />;
}
